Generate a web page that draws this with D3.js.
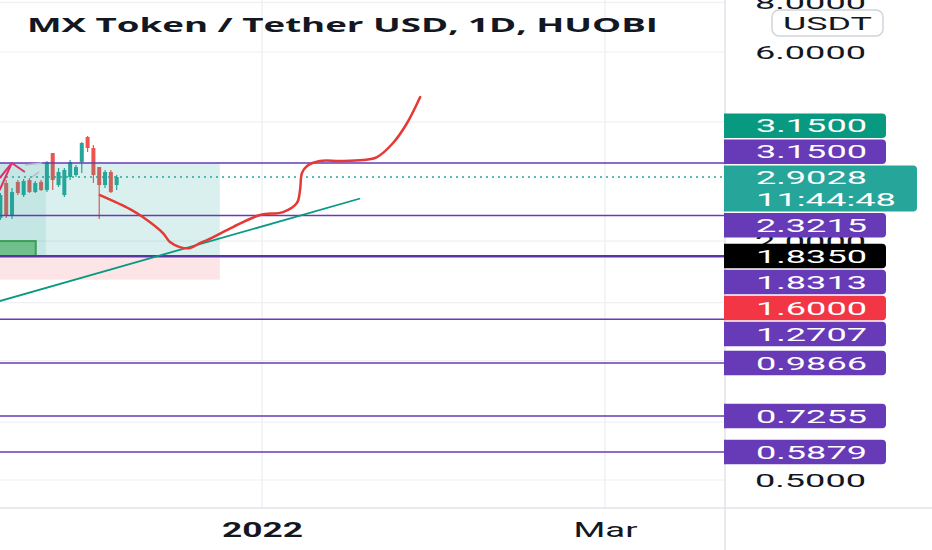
<!DOCTYPE html>
<html>
<head>
<meta charset="utf-8">
<script src="https://cdn.jsdelivr.net/npm/d3@7"></script>
<style>
	body { margin: 0; background: #fff; }
	svg { display: block; }
	text { font-family: Roboto, "Liberation Sans", sans-serif; }
</style>
</head>
<body>
<svg id="chart" width="932" height="550"></svg>
<script>
// ---- data ----
var title = 'MX Token / Tether USD, 1D, HUOBI';

var candleDates = ['2021-11-17', '2021-11-18', '2021-11-19', '2021-11-20', '2021-11-21', '2021-11-22', '2021-11-23',
	'2021-11-24', '2021-11-25', '2021-11-26', '2021-11-27', '2021-11-28', '2021-11-29', '2021-11-30',
	'2021-12-01', '2021-12-02', '2021-12-03', '2021-12-04', '2021-12-05', '2021-12-06', '2021-12-07'];
var opens  = [2.288, 2.804, 2.329, 2.820, 2.615, 2.853, 2.661, 2.820, 2.692, 3.337, 2.771, 2.615, 2.903, 2.937, 3.167, 3.662, 3.436, 3.077, 2.771, 2.989, 2.771];
var highs  = [2.646, 2.853, 2.724, 2.853, 2.870, 2.886, 2.837, 2.853, 3.186, 3.337, 3.059, 3.059, 3.205, 3.113, 3.558, 3.684, 3.496, 3.077, 3.024, 3.024, 2.937];
var lows   = [2.262, 2.288, 2.275, 2.615, 2.585, 2.646, 2.646, 2.677, 2.661, 2.692, 2.739, 2.585, 2.853, 2.903, 2.972, 3.357, 2.804, 2.275, 2.724, 2.646, 2.692];
var closes = [2.615, 2.329, 2.661, 2.646, 2.837, 2.661, 2.804, 2.692, 3.167, 2.853, 2.989, 3.024, 3.167, 3.077, 3.537, 3.436, 2.937, 2.771, 2.989, 2.661, 2.903];

// grid lines; only some of them keep a visible label, the rest sit under the price tags
var priceTicks = [8, 6, 4, 2, 1.4, 1, 0.7, 0.5];
var priceTickLabels = [8, 6, 2, 0.5];
var timeTicks = ['2022-01-01', '2022-03-01'];
var timeTickLabels = ['2022', 'Mar'];

// horizontal rays drawn on the chart
var levels = [3.15, 2.3215, 1.8313, 1.2707, 0.9866, 0.7255, 0.5879];

// long position tool
var entryPrice = 1.835, targetPrice = 3.15, stopPrice = 1.6;
var positionTimes = ['2021-11-10T00', '2021-12-24T18'];
var overlayTimes = ['2021-11-10T00', '2021-11-24T20'];
var boxTimes = ['2021-11-10T00', '2021-11-23T02'];
var boxPrices = [2.002, 1.835];

var lastPrice = 2.9028;
var countdown = '11:44:48';

// hand drawn projection
var curveTimes = ['2021-12-04T03', '2021-12-09T07', '2021-12-11T12', '2021-12-14T23', '2021-12-16T04', '2021-12-17T21',
	'2021-12-19T15', '2021-12-21T08', '2021-12-22T13', '2021-12-25T23', '2021-12-27T00', '2021-12-31T16',
	'2022-01-04T15', '2022-01-07T00', '2022-01-07T13', '2022-01-07T21', '2022-01-08T18', '2022-01-10T23',
	'2022-01-14T10', '2022-01-18T09', '2022-01-20T19', '2022-01-23T13', '2022-01-25T23', '2022-01-28T05'];
var curvePrices = [2.615, 2.411, 2.301, 2.097, 1.990, 1.933, 1.922, 1.979, 2.013, 2.134, 2.171, 2.329,
	2.369, 2.497, 2.692, 2.972, 3.095, 3.186, 3.186, 3.205, 3.261, 3.537, 3.973, 4.620];

var trendTimes = ['2021-11-16T21', '2022-01-17T21'];
var trendPrices = [1.413, 2.563];

var arrowShaftTimes = ['2021-11-16T21', '2021-11-18T23'];
var arrowShaftPrices = [2.692, 3.149];
var arrowHeadTimes = ['2021-11-16T21', '2021-11-18T23', '2021-11-21T05'];
var arrowHeadPrices = [2.886, 3.149, 2.989];

var grayTimes = ['2021-11-21T05', '2021-11-24T03'];
var grayPrices = [3.113, 3.149];
var grayDashTimes = ['2021-11-22T10', '2021-11-23T15'];
var grayDashPrices = [2.903, 2.989];

// ---- layout ----
var W = 932, H = 550;
var plotRight = 725, plotBottom = 508;

var parseDay = d3.utcParse('%Y-%m-%d');
var parseHour = d3.utcParse('%Y-%m-%dT%H');
function t(s) { return s.length > 10 ? parseHour(s) : parseDay(s); }

var x = d3.scaleUtc()
	.domain([t('2022-01-01'), t('2022-03-01')])
	.range([262, 605]);

var y = d3.scaleLog()
	.domain([6, 0.5])
	.range([52, 480]);

var fmt = d3.format('.4f');

var svg = d3.select('#chart');

svg.append('defs').append('clipPath')
	.attr('id', 'plotclip')
	.append('rect')
	.attr('width', plotRight)
	.attr('height', plotBottom);

var plot = svg.append('g').attr('clip-path', 'url(#plotclip)');

// grid
plot.selectAll('.hgrid')
	.data(priceTicks)
	.enter().append('line')
	.attr('x1', 0).attr('x2', plotRight)
	.attr('y1', d => y(d)).attr('y2', d => y(d))
	.attr('stroke', '#eef0f3').attr('stroke-width', 1.2);

plot.selectAll('.vgrid')
	.data(timeTicks)
	.enter().append('line')
	.attr('x1', d => x(t(d))).attr('x2', d => x(t(d)))
	.attr('y1', 0).attr('y2', plotBottom)
	.attr('stroke', '#eef0f3').attr('stroke-width', 1.5);

// candles
var candles = candleDates.map(function(d, i) {
	return {date: t(d), o: opens[i], h: highs[i], l: lows[i], c: closes[i]};
});

var cg = plot.selectAll('.candle')
	.data(candles)
	.enter().append('g')
	.attr('fill', d => d.c >= d.o ? '#26a69a' : '#ef5350')
	.attr('stroke', d => d.c >= d.o ? '#26a69a' : '#ef5350');

cg.append('line')
	.attr('x1', d => x(d.date)).attr('x2', d => x(d.date))
	.attr('y1', d => y(d.h)).attr('y2', d => y(d.l))
	.attr('stroke-width', 1.2);

cg.append('rect')
	.attr('x', d => x(d.date) - 2)
	.attr('width', 4)
	.attr('y', d => y(Math.max(d.o, d.c)))
	.attr('height', d => Math.max(1, y(Math.min(d.o, d.c)) - y(Math.max(d.o, d.c))))
	.attr('stroke', 'none');

// position tool zones
plot.append('rect')
	.attr('x', x(t(positionTimes[0])))
	.attr('width', x(t(positionTimes[1])) - x(t(positionTimes[0])))
	.attr('y', y(targetPrice))
	.attr('height', y(entryPrice) - y(targetPrice))
	.attr('fill', 'rgba(38,166,154,0.17)');

plot.append('rect')
	.attr('x', x(t(positionTimes[0])))
	.attr('width', x(t(positionTimes[1])) - x(t(positionTimes[0])))
	.attr('y', y(entryPrice))
	.attr('height', y(stopPrice) - y(entryPrice))
	.attr('fill', 'rgba(242,54,69,0.13)');

plot.append('rect')
	.attr('x', x(t(overlayTimes[0])))
	.attr('width', x(t(overlayTimes[1])) - x(t(overlayTimes[0])))
	.attr('y', y(targetPrice))
	.attr('height', y(entryPrice) - y(targetPrice))
	.attr('fill', 'rgba(38,166,154,0.12)');

plot.append('rect')
	.attr('x', x(t(boxTimes[0])))
	.attr('width', x(t(boxTimes[1])) - x(t(boxTimes[0])))
	.attr('y', y(boxPrices[0]))
	.attr('height', y(boxPrices[1]) - y(boxPrices[0]))
	.attr('fill', '#6fc08c')
	.attr('stroke', '#3f9d5a')
	.attr('stroke-width', 2);

// horizontal rays
plot.selectAll('.level')
	.data(levels)
	.enter().append('line')
	.attr('x1', 0).attr('x2', plotRight)
	.attr('y1', d => y(d)).attr('y2', d => y(d))
	.attr('stroke', '#673ab7')
	.attr('stroke-width', d => d == 1.8313 ? 2 : 1.5);

plot.append('line')
	.attr('x1', 0).attr('x2', plotRight)
	.attr('y1', y(entryPrice)).attr('y2', y(entryPrice))
	.attr('stroke', '#5a34a3')
	.attr('stroke-width', 2);

// last price line
plot.append('line')
	.attr('x1', 0).attr('x2', plotRight)
	.attr('y1', y(lastPrice)).attr('y2', y(lastPrice))
	.attr('stroke', '#26a69a')
	.attr('stroke-width', 1.5)
	.attr('stroke-dasharray', '2,4');

var line = d3.line()
	.x(d => x(t(d[0])))
	.y(d => y(d[1]));

// faint gray drawing
plot.append('path')
	.datum(d3.zip(grayTimes, grayPrices))
	.attr('d', line)
	.attr('fill', 'none')
	.attr('stroke', '#b8bcc6')
	.attr('stroke-width', 1.5);

plot.append('path')
	.datum(d3.zip(grayDashTimes, grayDashPrices))
	.attr('d', line)
	.attr('fill', 'none')
	.attr('stroke', '#b8bcc6')
	.attr('stroke-width', 1.5);

// trend line
plot.append('path')
	.datum(d3.zip(trendTimes, trendPrices))
	.attr('d', line)
	.attr('fill', 'none')
	.attr('stroke', '#089981')
	.attr('stroke-width', 1.8);

// projection curve
plot.append('path')
	.datum(d3.zip(curveTimes, curvePrices))
	.attr('d', line.curve(d3.curveCatmullRom.alpha(0.5)))
	.attr('fill', 'none')
	.attr('stroke', '#e53935')
	.attr('stroke-width', 2.5)
	.attr('stroke-linecap', 'round');

line.curve(d3.curveLinear);

// arrow
plot.append('path')
	.datum(d3.zip(arrowShaftTimes, arrowShaftPrices))
	.attr('d', line)
	.attr('fill', 'none')
	.attr('stroke', '#e0306a')
	.attr('stroke-width', 2);

plot.append('path')
	.datum(d3.zip(arrowHeadTimes, arrowHeadPrices))
	.attr('d', line)
	.attr('fill', 'none')
	.attr('stroke', '#e0306a')
	.attr('stroke-width', 2);

// title
svg.append('text')
	.attr('x', 27)
	.attr('y', 32)
	.attr('font-size', 20)
	.attr('font-weight', 'bold')
	.style('font-family', '"Open Sans", sans-serif')
	.attr('fill', '#131722')
	.attr('textLength', 631)
	.attr('lengthAdjust', 'spacingAndGlyphs')
	.text(title);

// separators
svg.append('line')
	.attr('x1', plotRight).attr('x2', plotRight)
	.attr('y1', 0).attr('y2', H)
	.attr('stroke', '#e0e3eb').attr('stroke-width', 1.5);

svg.append('line')
	.attr('x1', 0).attr('x2', W)
	.attr('y1', plotBottom).attr('y2', plotBottom)
	.attr('stroke', '#e0e3eb').attr('stroke-width', 1.5);

// price axis
var yaxis = d3.axisRight(y)
	.tickValues(priceTickLabels)
	.tickFormat(fmt)
	.tickSize(0)
	.tickPadding(30);

var yg = svg.append('g')
	.attr('transform', 'translate(' + plotRight + ',0)')
	.call(yaxis);
yg.select('.domain').remove();
yg.attr('font-size', 19).attr('font-family', null);
yg.selectAll('text')
	.attr('fill', '#131722')
	.attr('textLength', 111)
	.attr('lengthAdjust', 'spacingAndGlyphs');

// time axis
var xaxis = d3.axisBottom(x)
	.tickValues(timeTicks.map(t))
	.tickFormat((d, i) => timeTickLabels[i])
	.tickSize(0)
	.tickPadding(15);

var xg = svg.append('g')
	.attr('transform', 'translate(0,' + plotBottom + ')')
	.call(xaxis);
xg.select('.domain').remove();
xg.attr('font-size', 20).attr('font-family', null);
xg.selectAll('text')
	.attr('fill', '#131722')
	.attr('font-weight', (d, i) => i == 0 ? 'bold' : 'normal')
	.attr('textLength', (d, i) => i == 0 ? 81 : 64)
	.attr('lengthAdjust', 'spacingAndGlyphs');

// currency badge
svg.append('rect')
	.attr('x', 772).attr('y', 10)
	.attr('width', 111).attr('height', 26)
	.attr('rx', 7)
	.attr('fill', '#fff')
	.attr('stroke', '#d1d4dc')
	.attr('stroke-width', 1.5);

svg.append('text')
	.attr('x', 783).attr('y', 23)
	.attr('dy', '0.35em')
	.attr('font-size', 19)
	.attr('fill', '#131722')
	.attr('textLength', 89)
	.attr('lengthAdjust', 'spacingAndGlyphs')
	.text('USDT');

// price labels, stacked away from the last price label
var labelH = 24.5, gap = 1.5, labelX = plotRight - 1, labelW = 162, r = 4;

var labels = [];
levels.forEach(function(v) { labels.push({v: v, fill: '#673ab7'}); });
labels.push({v: targetPrice, fill: '#089981'});
labels.push({v: entryPrice, fill: '#000000'});
labels.push({v: stopPrice, fill: '#f23645'});
labels.forEach(function(d) { d.y = y(d.v); });

var anchorTop = y(lastPrice) - 11.5, anchorH = 46;

var above = labels.filter(d => d.v > lastPrice).sort((a, b) => b.y - a.y);
var below = labels.filter(d => d.v <= lastPrice).sort((a, b) => a.y - b.y);

var edge = anchorTop - gap;
above.forEach(function(d) {
	var bottom = Math.min(d.y + labelH / 2, edge);
	d.top = bottom - labelH;
	edge = d.top - gap;
});
edge = anchorTop + anchorH + gap;
below.forEach(function(d) {
	d.top = Math.max(d.y - labelH / 2, edge);
	edge = d.top + labelH + gap;
});

function tag(x0, top, w, h) {
	var x1 = x0 + w;
	return 'M' + x0 + ',' + top + 'H' + (x1 - r) + 'Q' + x1 + ',' + top + ' ' + x1 + ',' + (top + r) +
		'V' + (top + h - r) + 'Q' + x1 + ',' + (top + h) + ' ' + (x1 - r) + ',' + (top + h) + 'H' + x0 + 'Z';
}

var lg = svg.selectAll('.plabel')
	.data(labels)
	.enter().append('g');

lg.append('path')
	.attr('d', d => tag(labelX, d.top, labelW, labelH))
	.attr('fill', d => d.fill);

lg.append('text')
	.attr('x', 756)
	.attr('y', d => d.top + labelH / 2)
	.attr('dy', '0.35em')
	.attr('font-size', 19)
	.attr('fill', '#fff')
	.attr('textLength', 111)
	.attr('lengthAdjust', 'spacingAndGlyphs')
	.text(d => fmt(d.v));

// last price label with countdown
svg.append('path')
	.attr('d', tag(labelX, anchorTop, 193, anchorH))
	.attr('fill', '#26a69a');

svg.append('text')
	.attr('x', 756)
	.attr('y', y(lastPrice))
	.attr('dy', '0.35em')
	.attr('font-size', 19)
	.attr('fill', '#fff')
	.attr('textLength', 111)
	.attr('lengthAdjust', 'spacingAndGlyphs')
	.text(fmt(lastPrice));

svg.append('text')
	.attr('x', 756)
	.attr('y', y(lastPrice) + 22)
	.attr('dy', '0.35em')
	.attr('font-size', 19)
	.attr('fill', '#fff')
	.attr('textLength', 140)
	.attr('lengthAdjust', 'spacingAndGlyphs')
	.text(countdown);
</script>
</body>
</html>
